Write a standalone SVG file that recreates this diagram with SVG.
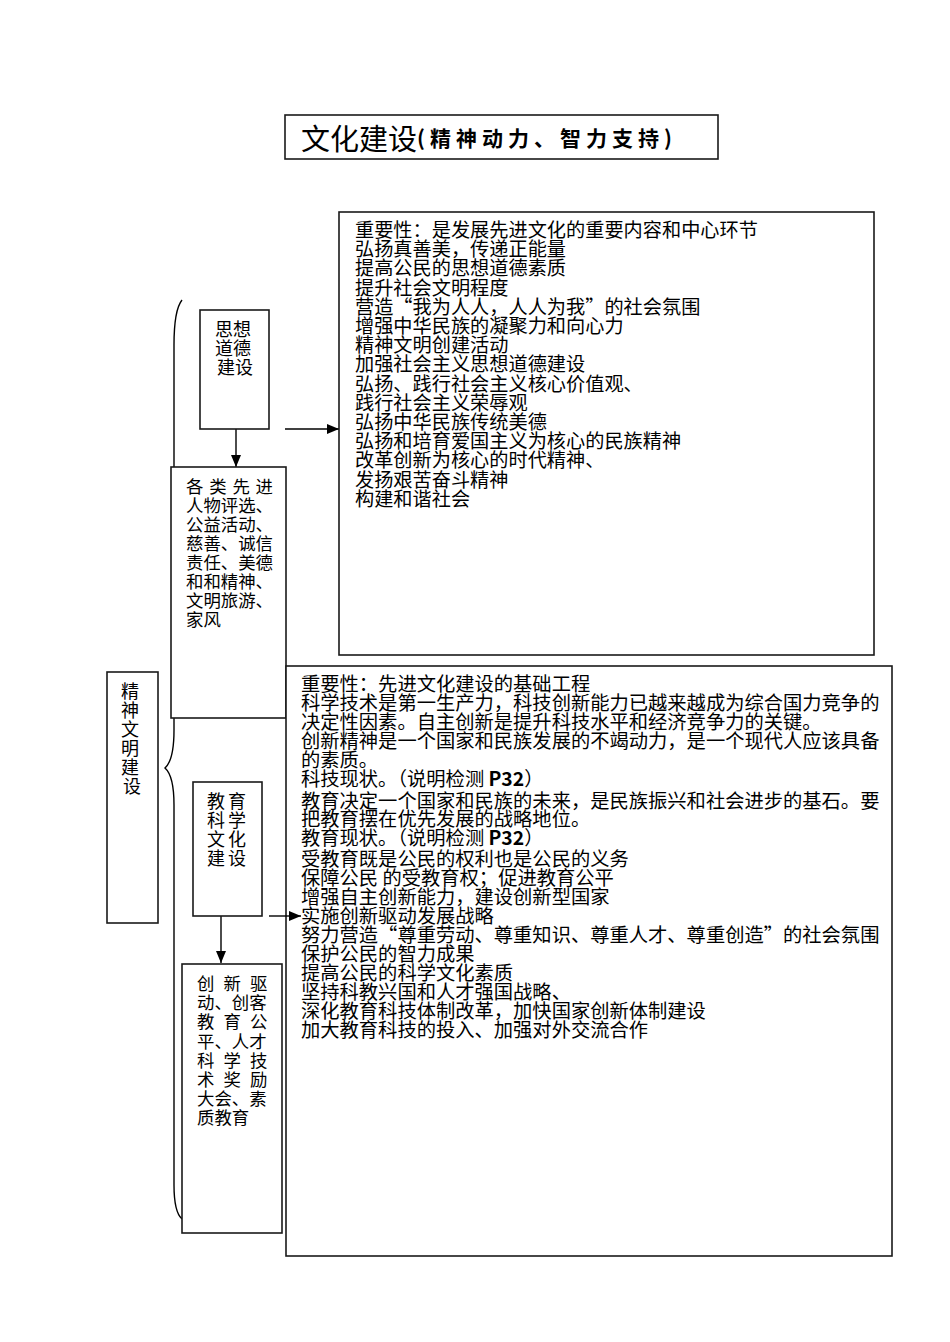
<svg xmlns="http://www.w3.org/2000/svg" width="950" height="1342" viewBox="0 0 950 1342">
<defs>
<marker id="ah" markerUnits="userSpaceOnUse" markerWidth="12" markerHeight="10" refX="12" refY="5" orient="auto">
<path d="M0,0 L12,5 L0,10 z" fill="#000"/>
</marker>
</defs>
<style>
.box{fill:#fff;stroke:#1a1a1a;stroke-width:1.6}
.ln{fill:none;stroke:#000;stroke-width:1.4}
.t{font-family:"Noto Sans CJK SC","Noto Sans CJK JP",sans-serif;fill:#000;dominant-baseline:central}
.big{font-size:19.2px}
.bot{font-size:19.3px}
.sm{font-size:17.4px}
.md{font-size:18px}
</style>
<rect width="950" height="1342" fill="#fff"/>

<g id="connectors">
<path class="ln" d="M182,300 Q174,310 174,345 L174,730 Q174,760 165,768 Q174,776 174,805 L174,1185 Q174,1212 182,1219"/>
<line class="ln" x1="236" y1="429" x2="236" y2="467" marker-end="url(#ah)"/>
<line class="ln" x1="285" y1="429" x2="339" y2="429" marker-end="url(#ah)"/>
<line class="ln" x1="221" y1="916" x2="221" y2="963" marker-end="url(#ah)"/>
</g>

<g id="title">
<rect class="box" x="285" y="115" width="433" height="44"/>
<text class="t" y="137"><tspan x="301" font-size="29">文化建设</tspan><tspan font-size="21" font-weight="bold" letter-spacing="5">(精神动力、智力支持)</tspan></text>
</g>

<g id="importance-moral">
<rect class="box" x="339" y="212" width="535" height="443"/>
<text class="t big">
<tspan x="355" y="229">重要性：是发展先进文化的重要内容和中心环节</tspan>
<tspan x="355" y="248.2">弘扬真善美，传递正能量</tspan>
<tspan x="355" y="267.4">提高公民的思想道德素质</tspan>
<tspan x="355" y="286.6">提升社会文明程度</tspan>
<tspan x="355" y="305.8">营造“我为人人，人人为我”的社会氛围</tspan>
<tspan x="355" y="325">增强中华民族的凝聚力和向心力</tspan>
<tspan x="355" y="344.2">精神文明创建活动</tspan>
<tspan x="355" y="363.4">加强社会主义思想道德建设</tspan>
<tspan x="355" y="382.6">弘扬、践行社会主义核心价值观、</tspan>
<tspan x="355" y="401.8">践行社会主义荣辱观</tspan>
<tspan x="355" y="421">弘扬中华民族传统美德</tspan>
<tspan x="355" y="440.2">弘扬和培育爱国主义为核心的民族精神</tspan>
<tspan x="355" y="459.4">改革创新为核心的时代精神、</tspan>
<tspan x="355" y="478.6">发扬艰苦奋斗精神</tspan>
<tspan x="355" y="497.8">构建和谐社会</tspan>
</text>
</g>

<g id="moral">
<rect class="box" x="200" y="310" width="69" height="119"/>
<text class="t md" text-anchor="middle">
<tspan x="235" y="328">思想</tspan>
<tspan x="235" y="347">道德</tspan>
<tspan x="235" y="366">建设</tspan>
</text>
</g>

<g id="moral-activities">
<rect class="box" x="171" y="467" width="115" height="251"/>
<text class="t sm">
<tspan x="186 209.2 232.4 255.6" y="485">各类先进</tspan>
<tspan x="186" y="504">人物评选、</tspan>
<tspan x="186" y="523">公益活动、</tspan>
<tspan x="186" y="542">慈善、诚信</tspan>
<tspan x="186" y="561">责任、美德</tspan>
<tspan x="186" y="580">和和精神、</tspan>
<tspan x="186" y="599">文明旅游、</tspan>
<tspan x="186" y="618">家风</tspan>
</text>
</g>

<g id="spiritual">
<rect class="box" x="107" y="672" width="51" height="251"/>
<text class="t md" text-anchor="middle">
<tspan x="132" y="690">精</tspan>
<tspan x="132" y="709">神</tspan>
<tspan x="132" y="728">文</tspan>
<tspan x="132" y="747">明</tspan>
<tspan x="132" y="766">建</tspan>
<tspan x="132" y="785">设</tspan>
</text>
</g>

<g id="importance-edu">
<rect class="box" x="286" y="666" width="606" height="590"/>
<text class="t bot">
<tspan x="301" y="683">重要性：先进文化建设的基础工程</tspan>
<tspan x="301" y="701.5">科学技术是第一生产力，科技创新能力已越来越成为综合国力竞争的</tspan>
<tspan x="301" y="720.5">决定性因素。自主创新是提升科技水平和经济竞争力的关键。</tspan>
<tspan x="301" y="740">创新精神是一个国家和民族发展的不竭动力，是一个现代人应该具备</tspan>
<tspan x="301" y="759">的素质。</tspan>
<tspan x="301" y="778">科技现状。（说明检测 <tspan font-weight="bold">P32</tspan>）</tspan>
<tspan x="301" y="799.5">教育决定一个国家和民族的未来，是民族振兴和社会进步的基石。要</tspan>
<tspan x="301" y="818">把教育摆在优先发展的战略地位。</tspan>
<tspan x="301" y="837">教育现状。（说明检测 <tspan font-weight="bold">P32</tspan>）</tspan>
<tspan x="301" y="857.5">受教育既是公民的权利也是公民的义务</tspan>
<tspan x="301" y="876.5">保障公民 的受教育权；促进教育公平</tspan>
<tspan x="301" y="895.5">增强自主创新能力，建设创新型国家</tspan>
<tspan x="301" y="914.5">实施创新驱动发展战略</tspan>
<tspan x="301" y="934">努力营造“尊重劳动、尊重知识、尊重人才、尊重创造”的社会氛围</tspan>
<tspan x="301" y="953">保护公民的智力成果</tspan>
<tspan x="301" y="972">提高公民的科学文化素质</tspan>
<tspan x="301" y="991">坚持科教兴国和人才强国战略、</tspan>
<tspan x="301" y="1010">深化教育科技体制改革，加快国家创新体制建设</tspan>
<tspan x="301" y="1029">加大教育科技的投入、加强对外交流合作</tspan>
</text>
</g>

<g id="edu">
<rect class="box" x="193" y="782" width="69" height="134"/>
<text class="t md">
<tspan x="207 228" y="800">教育</tspan>
<tspan x="207 228" y="819">科学</tspan>
<tspan x="207 228" y="838">文化</tspan>
<tspan x="207 228" y="857">建设</tspan>
</text>
</g>

<g id="edu-activities">
<rect class="box" x="182" y="964" width="100" height="269"/>
<text class="t sm">
<tspan x="197 223.5 250" y="982">创新驱</tspan>
<tspan x="197" y="1001.2">动、创客</tspan>
<tspan x="197 223.5 250" y="1020.4">教育公</tspan>
<tspan x="197" y="1039.6">平、人才</tspan>
<tspan x="197 223.5 250" y="1058.8">科学技</tspan>
<tspan x="197 223.5 250" y="1078">术奖励</tspan>
<tspan x="197" y="1097.2">大会、素</tspan>
<tspan x="197" y="1116.4">质教育</tspan>
</text>
</g>

<g id="connectors-front">
<line class="ln" x1="269" y1="916" x2="301" y2="916" marker-end="url(#ah)"/>
</g>
</svg>
